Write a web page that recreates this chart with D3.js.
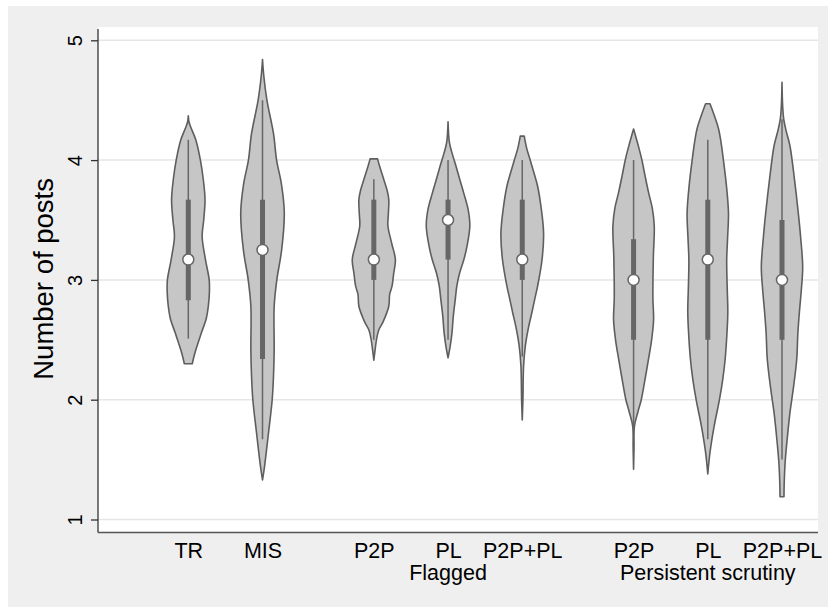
<!DOCTYPE html>
<html>
<head>
<meta charset="utf-8">
<script src="https://cdn.jsdelivr.net/npm/d3@7"></script>
<style>
  body { margin: 0; background: #fff; }
  text { font-family: "Liberation Sans", Arial, sans-serif; fill: #000; }
</style>
</head>
<body>
<script>

// Categories and where they sit on the x axis (gaps between panels)
const groups   = ["TR", "MIS", "P2P", "PL", "P2P+PL", "P2P", "PL", "P2P+PL"];
const groupPos = [1, 2, 3.5, 4.5, 5.5, 7, 8, 9];
const panelLabels = ["Flagged", "Persistent scrutiny"];
const panelPos    = [4.5, 8];
const yTicks = [1, 2, 3, 4, 5];

// Box statistics
const medians = [3.17, 3.25, 3.17, 3.50, 3.17, 3.00, 3.17, 3.00];
const q1      = [2.83, 2.34, 3.00, 3.17, 3.00, 2.50, 2.50, 2.50];
const q3      = [3.67, 3.67, 3.67, 3.67, 3.67, 3.34, 3.67, 3.50];
const whiskLo = [2.51, 1.67, 2.50, 2.50, 2.36, 1.75, 1.67, 1.50];
const whiskHi = [4.17, 4.50, 3.84, 4.00, 4.00, 4.00, 4.17, 4.34];

// Density profiles: [value, relative density]
const densTR = [[2.30,0.18],[2.39,0.30],[2.56,0.60],[2.68,0.82],[2.78,0.91],[2.90,0.96],[3.00,0.95],[3.17,0.78],[3.36,0.63],[3.50,0.70],[3.67,0.76],[3.84,0.68],[4.00,0.55],[4.17,0.34],[4.28,0.10],[4.32,0.03],[4.37,0]];
const densMIS = [[1.33,0],[1.44,0.09],[1.72,0.27],[2.00,0.44],[2.20,0.50],[2.42,0.53],[2.78,0.53],[3.00,0.65],[3.25,0.87],[3.56,0.99],[3.80,0.86],[4.00,0.64],[4.22,0.50],[4.50,0.20],[4.70,0.06],[4.84,0]];
const densFlagP2P = [[2.33,0],[2.42,0.06],[2.50,0.12],[2.58,0.22],[2.65,0.42],[2.78,0.68],[2.88,0.72],[2.95,0.83],[3.05,0.90],[3.17,0.98],[3.30,0.82],[3.45,0.64],[3.55,0.66],[3.67,0.68],[3.75,0.60],[3.84,0.45],[3.95,0.26],[4.01,0.17]];
const densFlagPL = [[2.35,0],[2.45,0.10],[2.56,0.18],[2.70,0.24],[2.84,0.33],[2.95,0.40],[3.06,0.53],[3.17,0.72],[3.28,0.86],[3.45,0.99],[3.59,0.91],[3.72,0.72],[3.84,0.53],[3.95,0.36],[4.06,0.18],[4.15,0.06],[4.32,0]];
const densFlagBoth = [[1.83,0],[2.00,0.03],[2.28,0.06],[2.45,0.14],[2.60,0.28],[2.73,0.44],[2.85,0.58],[2.95,0.70],[3.17,0.90],[3.39,0.97],[3.60,0.86],[3.78,0.70],[3.90,0.52],[4.00,0.36],[4.10,0.20],[4.20,0.09]];
const densPersP2P = [[1.42,0],[1.60,0.02],[1.78,0.04],[1.90,0.20],[2.00,0.35],[2.17,0.52],[2.34,0.68],[2.50,0.82],[2.67,0.91],[2.83,0.88],[3.00,0.88],[3.20,0.90],[3.45,0.94],[3.60,0.85],[3.73,0.68],[3.87,0.52],[4.00,0.38],[4.13,0.20],[4.26,0]];
const densPersPL = [[1.38,0],[1.56,0.10],[1.78,0.29],[2.00,0.53],[2.17,0.68],[2.34,0.79],[2.55,0.87],[2.73,0.91],[2.95,0.88],[3.17,0.86],[3.35,0.90],[3.56,0.94],[3.80,0.84],[4.00,0.71],[4.15,0.60],[4.26,0.49],[4.38,0.28],[4.47,0.10]];
const densPersBoth = [[1.19,0.09],[1.30,0.10],[1.47,0.14],[1.68,0.24],[1.89,0.36],[2.10,0.52],[2.34,0.67],[2.55,0.72],[2.73,0.79],[2.92,0.88],[3.11,0.94],[3.35,0.85],[3.56,0.74],[3.85,0.56],[4.12,0.36],[4.25,0.18],[4.34,0.08],[4.45,0.03],[4.65,0]];
const densities = [densTR, densMIS, densFlagP2P, densFlagPL, densFlagBoth, densPersP2P, densPersPL, densPersBoth];

// SVG dimensions
const width = 828, height = 607;
const plotLeft = 98, plotRight = 818, plotTop = 27, plotBottom = 532.5;

const svg = d3.select("body").append("svg")
    .attr("width", width)
    .attr("height", height);

// Outer grey panel and white plot region
svg.append("rect")
    .attr("x", 8).attr("y", 6)
    .attr("width", width - 8).attr("height", height - 6)
    .attr("fill", "#efefef");
svg.append("rect")
    .attr("x", plotLeft).attr("y", plotTop)
    .attr("width", plotRight - plotLeft).attr("height", plotBottom - plotTop)
    .attr("fill", "#fff");

// Scales
const x = d3.scaleLinear().domain([1, 9]).range([188.3, 782]);
const y = d3.scaleLinear().domain([1, 5]).range([519.5, 40.3]);
const w = d3.scaleLinear().domain([0, 1]).range([0, 22]);

// Gridlines
svg.append("g")
    .selectAll("line")
    .data(yTicks)
    .join("line")
    .attr("x1", plotLeft).attr("x2", plotRight)
    .attr("y1", d => y(d)).attr("y2", d => y(d))
    .attr("stroke", "#e6e6e6")
    .attr("stroke-width", 1.5);

// Violins
const violin = svg.append("g");
densities.forEach((dens, i) => {
    const cx = x(groupPos[i]);
    const area = d3.area()
        .y(d => y(d[0]))
        .x0(d => cx - w(d[1]))
        .x1(d => cx + w(d[1]))
        .curve(d3.curveCatmullRom.alpha(0.5));
    violin.append("path")
        .datum(dens)
        .attr("d", area)
        .attr("fill", "#c6c6c6")
        .attr("stroke", "#5e5e5e")
        .attr("stroke-width", 1.6)
        .attr("stroke-linejoin", "round");
});

// Whiskers, boxes and medians
const box = svg.append("g");
box.selectAll(".whisk")
    .data(groups)
    .join("line")
    .attr("x1", (d, i) => x(groupPos[i])).attr("x2", (d, i) => x(groupPos[i]))
    .attr("y1", (d, i) => y(whiskLo[i])).attr("y2", (d, i) => y(whiskHi[i]))
    .attr("stroke", "#666")
    .attr("stroke-width", 1.5);
box.selectAll(".iqr")
    .data(groups)
    .join("line")
    .attr("x1", (d, i) => x(groupPos[i])).attr("x2", (d, i) => x(groupPos[i]))
    .attr("y1", (d, i) => y(q1[i])).attr("y2", (d, i) => y(q3[i]))
    .attr("stroke", "#666")
    .attr("stroke-width", 5);
box.selectAll("circle")
    .data(groups)
    .join("circle")
    .attr("cx", (d, i) => x(groupPos[i]))
    .attr("cy", (d, i) => y(medians[i]))
    .attr("r", 5.5)
    .attr("fill", "#fff")
    .attr("stroke", "#666")
    .attr("stroke-width", 1.5);

// Y axis with rotated labels
const yAxis = svg.append("g")
    .attr("transform", `translate(${plotLeft}, 0)`)
    .call(d3.axisLeft(y).tickValues(yTicks).tickSize(7).tickFormat(d3.format("d")));
yAxis.select(".domain")
    .attr("d", `M0,${plotTop + 2}V${plotBottom}`)
    .attr("stroke", "#333")
    .attr("stroke-width", 1.3);
yAxis.selectAll(".tick line").attr("stroke", "#333").attr("stroke-width", 1.3);
yAxis.selectAll(".tick text")
    .attr("transform", "rotate(-90)")
    .attr("x", 0).attr("y", -16).attr("dy", 0)
    .attr("text-anchor", "middle")
    .style("font-size", "20px")
    .style("font-family", "'Liberation Sans', Arial, sans-serif")
    .attr("fill", "#000");

// X axis with group labels
const xAxis = svg.append("g")
    .attr("transform", `translate(0, ${plotBottom})`)
    .call(d3.axisBottom(x).tickValues(groupPos).tickSize(0).tickFormat((d, i) => groups[i]));
xAxis.select(".domain")
    .attr("d", `M${plotLeft},0H${plotRight}`)
    .attr("stroke", "#555")
    .attr("stroke-width", 1.5);
xAxis.selectAll(".tick text")
    .attr("y", 25.5).attr("dy", 0)
    .style("font-size", "21.5px")
    .style("font-family", "'Liberation Sans', Arial, sans-serif")
    .attr("fill", "#000");

// Panel labels
svg.append("g")
    .selectAll("text")
    .data(panelLabels)
    .join("text")
    .attr("x", (d, i) => x(panelPos[i]))
    .attr("y", 580)
    .attr("text-anchor", "middle")
    .style("font-size", "21.5px")
    .text(d => d);

// Y axis title
svg.append("text")
    .attr("transform", `translate(53, ${y(3) - 1}) rotate(-90)`)
    .attr("text-anchor", "middle")
    .style("font-size", "27.5px")
    .text("Number of posts");

</script>
</body>
</html>
